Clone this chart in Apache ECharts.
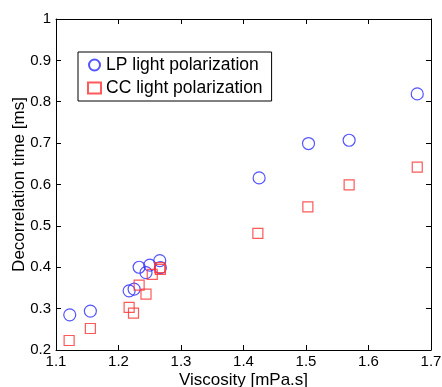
<!DOCTYPE html>
<html>
<head>
<meta charset="utf-8">
<script src="https://cdn.jsdelivr.net/npm/echarts@6/dist/echarts.min.js"></script>
<style>
  html, body { margin: 0; padding: 0; background: #fff; }
  #chart { width: 442px; height: 387px; }
</style>
</head>
<body>
<div id="chart"></div>
<script>
// viscosity [mPa.s] for each sample
const lpViscosity = [1.122, 1.155, 1.217, 1.225, 1.233, 1.244, 1.250, 1.266, 1.267, 1.425, 1.504, 1.569, 1.678]
const lpTime = [0.285, 0.294, 0.343, 0.347, 0.400, 0.387, 0.405, 0.416, 0.399, 0.616, 0.699, 0.707, 0.819]
const ccViscosity = [1.121, 1.155, 1.217, 1.224, 1.233, 1.244, 1.254, 1.266, 1.267, 1.423, 1.503, 1.569, 1.678]
const ccTime = [0.223, 0.252, 0.303, 0.289, 0.357, 0.335, 0.383, 0.399, 0.395, 0.482, 0.546, 0.599, 0.642]

const font = 'Liberation Sans, Arial, Helvetica, sans-serif'

const pairs = (xs, ys) => xs.map((x, i) => [x, ys[i]])

const boxAxis = {
  axisLine: { show: true, onZero: false, lineStyle: { color: '#000', width: 1 } },
  axisTick: { show: true, inside: true, length: 5, lineStyle: { color: '#000' } },
  splitLine: { show: false }
}

const chart = echarts.init(document.getElementById('chart'))
chart.setOption({
  animation: false,
  backgroundColor: '#fff',
  grid: { left: 56, right: 11, top: 19, bottom: 37, outerBoundsMode: 'none', containLabel: false },
  legend: {
    left: 78, top: 52,
    orient: 'vertical',
    itemGap: 5,
    itemWidth: 13, itemHeight: 11,
    padding: [4, 9, 4, 9],
    borderColor: '#000', borderWidth: 1,
    backgroundColor: '#fff',
    textStyle: { fontFamily: font, fontSize: 17.5, color: '#000' },
    data: ['LP light polarization', 'CC light polarization']
  },
  xAxis: [
    Object.assign({
      type: 'value', min: 1.1, max: 1.7, interval: 0.1,
      name: 'Viscosity [mPa.s]', nameLocation: 'middle', nameGap: 22, nameMoveOverlap: false,
      nameTextStyle: { fontFamily: font, fontSize: 17, color: '#000' },
      axisLabel: { fontFamily: font, fontSize: 15, color: '#000', margin: 4,
        formatter: v => +v.toFixed(1) + '' }
    }, boxAxis),
    Object.assign({
      type: 'value', min: 1.1, max: 1.7, interval: 0.1, position: 'top',
      axisLabel: { show: false }
    }, boxAxis)
  ],
  yAxis: [
    Object.assign({
      type: 'value', min: 0.2, max: 1, interval: 0.1,
      name: 'Decorrelation time [ms]', nameLocation: 'middle', nameGap: 28, nameMoveOverlap: false,
      nameTextStyle: { fontFamily: font, fontSize: 17, color: '#000' },
      axisLabel: { fontFamily: font, fontSize: 15, color: '#000', margin: 5,
        formatter: v => +v.toFixed(1) + '' }
    }, boxAxis),
    Object.assign({
      type: 'value', min: 0.2, max: 1, interval: 0.1, position: 'right',
      axisLabel: { show: false }
    }, boxAxis)
  ],
  series: [
    {
      name: 'LP light polarization', type: 'scatter',
      symbol: 'circle', symbolSize: 12,
      itemStyle: { color: 'rgba(0,0,0,0)', borderColor: '#2a2aff', borderWidth: 1.2 },
      data: pairs(lpViscosity, lpTime)
    },
    {
      name: 'CC light polarization', type: 'scatter',
      symbol: 'rect', symbolSize: 10,
      itemStyle: { color: 'rgba(0,0,0,0)', borderColor: '#ff3030', borderWidth: 1.2 },
      data: pairs(ccViscosity, ccTime)
    }
  ]
})
</script>
</body>
</html>
